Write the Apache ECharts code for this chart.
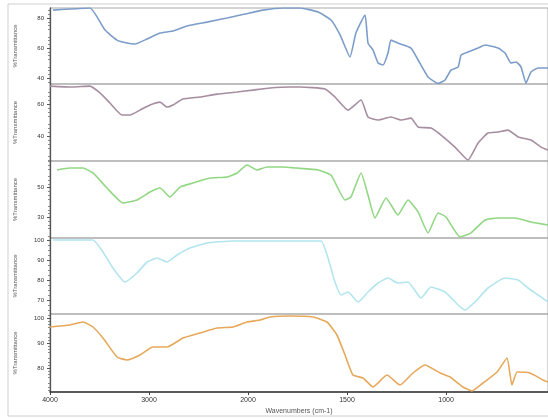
<!DOCTYPE html>
<html>
<head>
<meta charset="utf-8">
<script src="https://cdn.jsdelivr.net/npm/echarts@6/dist/echarts.min.js"></script>
<style>
html, body { margin: 0; padding: 0; background: #fff; }
#chart { width: 548px; height: 418px; }
</style>
</head>
<body>
<div id="chart"></div>
<script>
// wavenumber ticks, the axis is stretched x2 below 2000 cm-1
const xTicks = [4000, 3000, 2000, 1500, 1000];

// sample 1 (blue)
const wn1 = [3970, 3798, 3596, 3444, 3323, 3222, 3141, 3020, 2889, 2758, 2616, 2414, 2212, 2030, 1924, 1823, 1737, 1646, 1581, 1535, 1485, 1455, 1409, 1394, 1369, 1343, 1318, 1293, 1278, 1243, 1177, 1141, 1091, 1040, 1005, 975, 939, 924, 889, 838, 803, 737, 702, 672, 646, 621, 596, 571, 535, 485];
const t1 = [85.3, 86, 86.7, 72, 65.3, 63.3, 62.7, 66, 70, 71.3, 74.7, 77.3, 80, 82.7, 85.3, 86.7, 86.7, 84, 78.7, 68.7, 54, 70, 82, 63.3, 58.7, 50, 48.7, 56.7, 65.3, 63.3, 60, 52, 40.7, 36.4, 38.7, 45.3, 47.3, 55.3, 57.3, 60, 62, 60, 56.7, 50, 50.7, 47.3, 36.6, 44, 46.7, 46.7];

// sample 2 (mauve)
const wn2 = [4000, 3778, 3596, 3495, 3394, 3273, 3192, 3091, 2990, 2889, 2818, 2758, 2657, 2485, 2313, 2111, 1975, 1889, 1788, 1737, 1611, 1561, 1495, 1429, 1394, 1343, 1278, 1227, 1177, 1141, 1076, 1025, 955, 889, 838, 788, 737, 687, 636, 571, 520, 485];
const t2 = [71.2, 70.6, 71.2, 66.9, 60.6, 53.1, 53.1, 56.2, 59.4, 61.2, 58.1, 59.4, 63.1, 64.4, 66.2, 67.5, 68.7, 70, 70.6, 70.6, 69.4, 64.4, 56.2, 62.5, 51.9, 50, 51.9, 50, 51.2, 45.6, 45, 40.6, 33.1, 25, 35.6, 41.9, 42.5, 43.7, 39.4, 37.5, 33.1, 31.2];

// sample 3 (green)
const wn3 = [3929, 3798, 3667, 3566, 3424, 3263, 3121, 2990, 2889, 2788, 2687, 2556, 2384, 2212, 2111, 2010, 1955, 1904, 1823, 1758, 1646, 1581, 1510, 1480, 1429, 1394, 1359, 1303, 1243, 1192, 1141, 1091, 1040, 1000, 929, 874, 803, 737, 651, 571, 485];
const t3 = [61.7, 63, 63, 59.7, 49.7, 39.7, 41.7, 47, 49.7, 43.7, 50.3, 53, 56.3, 57, 59.7, 65, 61.7, 63.7, 63.7, 63, 61.7, 58.3, 41.7, 43.7, 59.7, 45, 29.7, 43, 31.7, 41.7, 33.7, 19.7, 33, 30.3, 17, 19.7, 28.3, 29.7, 29.7, 27, 25];

// sample 4 (cyan)
const wn4 = [3970, 3566, 3465, 3364, 3243, 3121, 3020, 2919, 2818, 2717, 2586, 2414, 2152, 1737, 1631, 1596, 1561, 1530, 1495, 1444, 1394, 1343, 1293, 1243, 1192, 1126, 1076, 1005, 939, 904, 854, 788, 702, 636, 586, 535, 485];
const t4 = [100, 100, 94, 86, 79, 83.5, 89, 91, 89, 92.5, 96, 98.5, 99.5, 99.5, 99.5, 91, 79, 72.5, 74, 69, 74, 78.5, 81, 78.5, 79, 71, 76.5, 74, 67.5, 65, 69, 76, 81, 80, 76, 72.5, 69];

// sample 5 (orange)
const wn5 = [4000, 3798, 3667, 3566, 3465, 3323, 3222, 3091, 2960, 2818, 2657, 2485, 2313, 2152, 2010, 1939, 1889, 1788, 1672, 1601, 1551, 1510, 1470, 1419, 1369, 1298, 1232, 1167, 1106, 1030, 980, 914, 869, 813, 742, 692, 667, 641, 576, 510, 485];
const t5 = [96.4, 97.2, 98.4, 96.4, 92, 84.4, 83.2, 85.2, 88.4, 88.4, 92, 94, 96, 96.4, 98.4, 99.2, 100.4, 100.8, 100.4, 98.4, 93.2, 85.2, 77.2, 76, 72.4, 77.2, 73.2, 78, 81.2, 78, 76.4, 72.4, 70.8, 74, 78.4, 84, 73.2, 78.4, 78, 75.2, 74.4];

// y tick labels for each panel
const yTicks = [[80, 60, 40], [60, 40], [50, 30], [100, 90, 80, 70], [100, 90, 80]];

const wnList = [wn1, wn2, wn3, wn4, wn5];
const tList = [t1, t2, t3, t4, t5];
const colors = ['#7c9dc9', '#a68d9f', '#92d784', '#b3e5ee', '#e6a95c'];
const yRange = [[36, 86.7], [24.4, 72.5], [16.3, 67.7], [63, 101], [70.4, 101.6]];
const panels = [[8, 76], [84, 77], [161, 77], [238, 76], [314, 78]];

// axis position: 1 unit per cm-1 above 2000, 2 units per cm-1 below
function toPos(wn) {
	return wn >= 2000 ? 4000 - wn : 2000 + (2000 - wn) * 2;
}
function toWn(pos) {
	return pos <= 2000 ? 4000 - pos : 2000 - (pos - 2000) / 2;
}

const chart = echarts.init(document.getElementById('chart'));

const grid = [], xAxis = [], yAxis = [], series = [];
for (let i = 0; i < 5; i++) {
	const last = i === 4;
	grid.push({
		left: 50, right: 0, top: panels[i][0], height: panels[i][1],
		show: true, borderColor: '#a9a9a9', borderWidth: 1
	});
	xAxis.push({
		type: 'value', gridIndex: i, min: 0, max: 5030,
		show: last,
		name: last ? 'Wavenumbers (cm-1)' : '',
		nameLocation: 'middle', nameGap: 16,
		nameTextStyle: { fontSize: 7, color: '#555' },
		splitLine: { show: false },
		axisLine: { show: true, onZero: false, lineStyle: { color: '#333', width: 1.6 } },
		axisTick: { show: true, customValues: xTicks.map(toPos), length: 3, lineStyle: { color: '#444' } },
		axisLabel: {
			customValues: xTicks.map(toPos), fontSize: 7, color: '#333', margin: 5,
			formatter: (v) => String(Math.round(toWn(v)))
		}
	});
	yAxis.push({
		type: 'value', gridIndex: i, min: yRange[i][0], max: yRange[i][1],
		name: '%Transmittance', nameLocation: 'middle', nameGap: 32, nameRotate: 90,
		nameTextStyle: { fontSize: 6, color: '#555' },
		splitLine: { show: false },
		axisLine: { show: true, lineStyle: { color: '#555', width: 1.3 } },
		axisTick: { show: true, customValues: yTicks[i], length: 3, lineStyle: { color: '#555' } },
		minorTick: { show: true, splitNumber: 4, length: 2, lineStyle: { color: '#888' } },
		axisLabel: { customValues: yTicks[i], fontSize: 6, color: '#333', margin: 6 }
	});
	series.push({
		type: 'line', xAxisIndex: i, yAxisIndex: i,
		data: wnList[i].map((w, k) => [toPos(w), tList[i][k]]),
		showSymbol: false, smooth: 0.15,
		lineStyle: { color: colors[i], width: 1.6 }
	});
}

chart.setOption({
	animation: false,
	backgroundColor: '#fff',
	graphic: [{
		type: 'rect', silent: true, z: -1,
		shape: { x: 8, y: 4, width: 600, height: 412 },
		style: { fill: 'none', stroke: '#cfcfcf', lineWidth: 1 }
	}],
	grid: grid,
	xAxis: xAxis,
	yAxis: yAxis,
	series: series
});
</script>
</body>
</html>
